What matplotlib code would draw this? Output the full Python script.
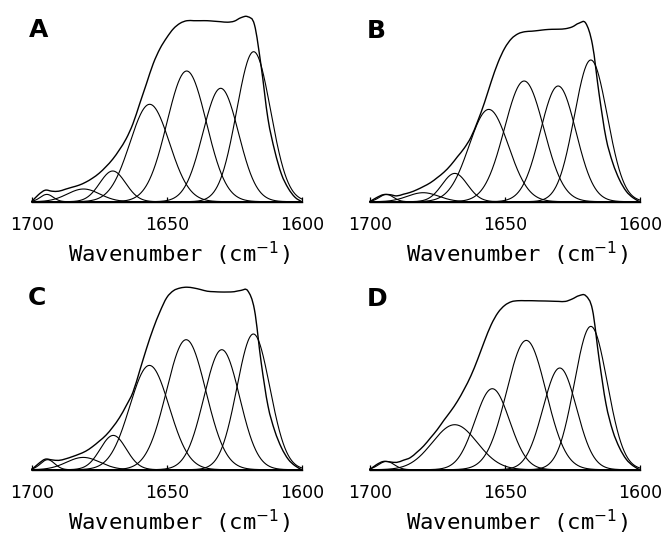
import numpy as np
import matplotlib
matplotlib.use("Agg")
import matplotlib.pyplot as plt
from matplotlib.path import Path
from matplotlib.patches import PathPatch

# ---------------- data ----------------
panel_labels = ["A", "B", "C", "D"]
tick_values = [1700, 1650, 1600]
xlabel_text = "Wavenumber (cm$^{-1}$)"

# measured amide I envelope, sampled every 2.5 cm-1 from 1700 down to 1600 (a.u.)
env_wn = [1700 - 2.5 * i for i in range(41)]
env_A = [0.00, 0.07, 0.115, 0.105, 0.105, 0.125, 0.145, 0.165, 0.195, 0.235,
         0.285, 0.35, 0.425, 0.52, 0.63, 0.78, 0.98, 1.18, 1.38, 1.53,
         1.64, 1.73, 1.785, 1.81, 1.81, 1.81, 1.81, 1.805, 1.80, 1.795,
         1.805, 1.84, 1.85, 1.77, 1.35, 0.83, 0.51, 0.275, 0.135, 0.045, 0.00]
env_B = [0.00, 0.04, 0.07, 0.07, 0.058, 0.075, 0.093, 0.12, 0.153, 0.19,
         0.24, 0.295, 0.365, 0.45, 0.535, 0.645, 0.805, 0.99, 1.20, 1.39,
         1.535, 1.63, 1.68, 1.70, 1.705, 1.712, 1.72, 1.724, 1.725, 1.73,
         1.748, 1.785, 1.786, 1.57, 1.07, 0.64, 0.39, 0.22, 0.105, 0.04, 0.00]
env_C = [0.00, 0.06, 0.105, 0.098, 0.093, 0.108, 0.13, 0.155, 0.185, 0.23,
         0.285, 0.345, 0.425, 0.52, 0.64, 0.775, 0.99, 1.21, 1.41, 1.58,
         1.72, 1.79, 1.817, 1.825, 1.817, 1.802, 1.785, 1.78, 1.777, 1.777,
         1.78, 1.793, 1.79, 1.60, 1.07, 0.64, 0.39, 0.22, 0.105, 0.04, 0.00]
env_D = [0.00, 0.05, 0.082, 0.078, 0.073, 0.095, 0.12, 0.175, 0.238, 0.318,
         0.40, 0.495, 0.585, 0.685, 0.805, 0.94, 1.105, 1.285, 1.45, 1.57,
         1.643, 1.68, 1.69, 1.69, 1.69, 1.688, 1.687, 1.685, 1.683, 1.683,
         1.707, 1.74, 1.74, 1.60, 1.10, 0.66, 0.39, 0.22, 0.105, 0.04, 0.00]

# fitted Gaussian band components: centre (cm-1), height (a.u.), sigma (cm-1)
centers_A = [1694.4, 1680.8, 1670.0, 1656.3, 1642.6, 1630.0, 1617.8]
heights_A = [0.073, 0.127, 0.307, 0.974, 1.307, 1.134, 1.50]
sigmas_A = [2.4, 6.0, 4.8, 7.3, 7.3, 6.6, 6.3]

centers_B = [1693.8, 1680.2, 1668.5, 1655.9, 1642.8, 1630.2, 1618.1]
heights_B = [0.073, 0.09, 0.283, 0.923, 1.207, 1.157, 1.417]
sigmas_B = [2.6, 5.8, 4.7, 7.3, 7.3, 6.6, 6.1]

centers_C = [1694.1, 1680.9, 1669.8, 1656.4, 1642.8, 1629.6, 1617.9]
heights_C = [0.10, 0.123, 0.343, 1.043, 1.30, 1.20, 1.357]
sigmas_C = [2.6, 6.2, 4.8, 7.3, 7.3, 6.6, 6.1]

centers_D = [1693.8, 1668.5, 1654.6, 1642.0, 1629.6, 1618.1]
heights_D = [0.083, 0.45, 0.81, 1.293, 1.017, 1.433]
sigmas_D = [2.9, 8.3, 6.4, 7.3, 6.2, 6.1]

envelopes = [env_A, env_B, env_C, env_D]
components = [(centers_A, heights_A, sigmas_A),
              (centers_B, heights_B, sigmas_B),
              (centers_C, heights_C, sigmas_C),
              (centers_D, heights_D, sigmas_D)]


def smooth_curve_path(x, y):
    """Smooth (Catmull-Rom style) Bezier path passing through the data points."""
    pts = np.column_stack([x, y]).astype(float)
    verts = [pts[0]]
    codes = [Path.MOVETO]
    n = len(pts)
    for i in range(n - 1):
        p0 = pts[i - 1] if i > 0 else pts[i]
        p3 = pts[i + 2] if i + 2 < n else pts[i + 1]
        c1 = pts[i] + (pts[i + 1] - p0) / 6.0
        c2 = pts[i + 1] - (p3 - pts[i]) / 6.0
        verts += [c1, c2, pts[i + 1]]
        codes += [Path.CURVE4] * 3
    return Path(verts, codes)


# ---------------- layout ----------------
W, H = 667, 535
fig = plt.figure(figsize=(W / 100, H / 100), dpi=100)
plt.rcParams['mathtext.fontset'] = 'dejavusans'

ax_h_px = 190.0
axes_px = [(31.7, 201.7), (369.7, 201.7), (31.7, 469.7), (369.7, 469.7)]  # (left x, baseline y)
ax_w_px = 270.0
letter_pos = [(29, 18), (367, 19), (28, 286), (367, 287)]

xs = np.linspace(1700, 1600, 801)

for i, (lx, by) in enumerate(axes_px):
    ax = fig.add_axes([lx / W, 1 - by / H, ax_w_px / W, ax_h_px / H])
    ax.set_xlim(1700, 1600)
    ax.set_ylim(0, ax_h_px / 100.0)
    for s in ['top', 'left', 'right']:
        ax.spines[s].set_visible(False)
    ax.spines['bottom'].set_linewidth(1.0)
    ax.set_yticks([])
    ax.set_xticks(tick_values)
    ax.set_xticklabels([str(t) for t in tick_values], family='DejaVu Sans', fontsize=12.5)
    ax.tick_params(axis='x', direction='in', length=3.6, width=0.9, pad=10.5, colors='black')

    cs, hs, ss = components[i]
    for c, h, s in zip(cs, hs, ss):
        ax.plot(xs, h * np.exp(-(xs - c) ** 2 / (2 * s ** 2)), color='black', lw=0.8,
                clip_on=False, solid_joinstyle='round')
    patch = PathPatch(smooth_curve_path(env_wn, envelopes[i]), facecolor='none',
                      edgecolor='black', lw=1.0, clip_on=False)
    ax.add_patch(patch)

    # x label
    fig.text((lx + 147.5) / W, 1 - (by + 61) / H, xlabel_text, family='DejaVu Sans Mono',
             fontsize=16, ha='center', va='baseline', color='black')
    # panel letter
    px, py = letter_pos[i]
    fig.text(px / W, 1 - py / H, panel_labels[i], family='DejaVu Sans', weight='bold',
             fontsize=18, ha='left', va='top', color='black')

fig.savefig("out.png", dpi=100)
